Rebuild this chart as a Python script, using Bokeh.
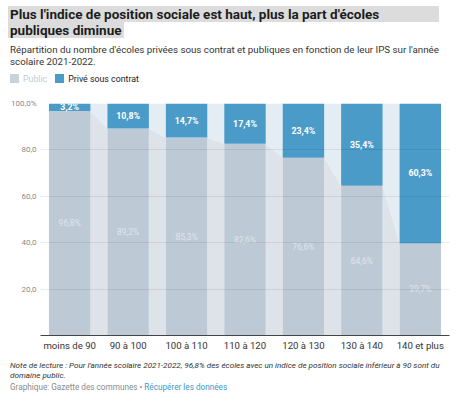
from bokeh.plotting import figure
from bokeh.models import Div, FixedTicker, Range1d, ColumnDataSource
from bokeh.layouts import column
from bokeh.embed import file_html
from bokeh.resources import INLINE
from bokeh.core.properties import value

categories = ["moins de 90", "90 à 100", "100 à 110", "110 à 120", "120 à 130", "130 à 140", "140 et plus"]
public = [96.8, 89.2, 85.3, 82.6, 76.6, 64.6, 39.7]
prive = [3.2, 10.8, 14.7, 17.4, 23.4, 35.4, 60.3]
y_ticks = [20, 40, 60, 80, 100]
y_tick_labels = ["20,0", "40,0", "60,0", "80,0", "100,0%"]

C_PUB = "#bdcad6"
C_PRIV = "#4b9bc9"
C_PUB_GAP = "#dde3e9"
C_PRIV_GAP = "#e4edf4"
FONT = "Roboto"

def fmt(v):
    return f"{v:.1f}".replace(".", ",") + "%"

header = Div(
    text=(
        f"<div style='font-family:{FONT};width:450px'>"
        "<div style='font-weight:bold;font-size:13.5px;line-height:16px;color:#1d1d1d'>"
        "<span style='display:inline-block;background:#dcdcdc;width:431px;padding-left:2px'>Plus l'indice de position sociale est haut, plus la part d'écoles</span><br>"
        "<span style='display:inline-block;background:#dcdcdc;padding:0 2px'>publiques diminue</span></div>"
        "<div style='font-size:9.75px;line-height:12px;color:#333;margin-top:6px;padding-left:2px'>"
        "Répartition du nombre d'écoles privées sous contrat et publiques en fonction de leur IPS sur l'année scolaire 2021-2022.</div>"
        "<div style='font-size:8.8px;line-height:10px;margin-top:6px;padding-left:2px'>"
        f"<span style='display:inline-block;width:9px;height:9px;background:#c8d2dc;vertical-align:-1px'></span>"
        "<span style='color:#c3ccd4;margin-left:4px;margin-right:8px'>Public</span>"
        f"<span style='display:inline-block;width:9px;height:9px;background:{C_PRIV};vertical-align:-1px'></span>"
        "<span style='color:#222;margin-left:4px'>Privé sous contrat</span></div>"
        "</div>"
    ),
    width=458, height=86, margin=(6, 0, 0, 8),
)

n = len(categories)
xs = list(range(n))
w = 0.71

p = figure(width=458, height=263, x_range=Range1d(-0.5, n - 0.5), y_range=Range1d(0, 100),
           output_backend="svg", toolbar_location=None, margin=(0, 0, 0, 8),
           min_border_left=31, min_border_right=17, min_border_top=11, min_border_bottom=20)
p.outline_line_color = None
p.background_fill_color = "white"

# connecting areas
pub_gx, pub_gy, priv_gx, priv_gy = [], [], [], []
for i in range(n - 1):
    x0 = xs[i] + w / 2
    x1 = xs[i + 1] - w / 2
    pub_gx.append([x0, x0, x1, x1])
    pub_gy.append([0, public[i], public[i + 1], 0])
    priv_gx.append([x0, x0, x1, x1])
    priv_gy.append([public[i], 100, 100, public[i + 1]])
p.patches(pub_gx, pub_gy, fill_color=C_PUB_GAP, line_color=None)
p.patches(priv_gx, priv_gy, fill_color=C_PRIV_GAP, line_color=None)

src = ColumnDataSource(dict(
    x=xs, pub=public, priv=prive,
    top=[a + b for a, b in zip(public, prive)],
    pub_mid=[a / 2 for a in public],
    priv_mid=[a + b / 2 for a, b in zip(public, prive)],
    pub_lbl=[fmt(v) for v in public],
    priv_lbl=[fmt(v) for v in prive],
))
p.vbar(x="x", width=w, bottom=0, top="pub", source=src, fill_color=C_PUB, line_color=None)
p.vbar(x="x", width=w, bottom="pub", top="top", source=src, fill_color=C_PRIV, line_color=None)

p.text(x="x", y="pub_mid", text="pub_lbl", source=src, text_align="center", text_baseline="middle",
       text_font=value(FONT), text_font_size="8.5px", text_color="#dde4eb")
p.text(x="x", y="priv_mid", text="priv_lbl", source=src, text_align="center", text_baseline="middle",
       text_font=value(FONT), text_font_size="8.8px", text_font_style="bold", text_color="white")

# axes
p.yaxis.ticker = FixedTicker(ticks=y_ticks)
p.yaxis.major_label_overrides = {t: l for t, l in zip(y_ticks, y_tick_labels)}
p.yaxis.axis_line_color = None
p.yaxis.major_tick_line_color = None
p.yaxis.minor_tick_line_color = None
p.yaxis.major_tick_out = 0
p.yaxis.major_tick_in = 0
p.yaxis.major_label_standoff = 4
p.yaxis.major_label_text_font = FONT
p.yaxis.major_label_text_font_size = "8px"
p.yaxis.major_label_text_color = "#8a8a8a"

p.xaxis.ticker = FixedTicker(ticks=xs)
p.xaxis.major_label_overrides = {i: c for i, c in zip(xs, categories)}
p.xaxis.axis_line_color = "#444444"
p.xaxis.axis_line_width = 1
p.xaxis.major_tick_line_color = None
p.xaxis.minor_tick_line_color = None
p.xaxis.major_tick_out = 0
p.xaxis.major_tick_in = 0
p.xaxis.major_label_standoff = 4
p.xaxis.major_label_text_font = FONT
p.xaxis.major_label_text_font_size = "9.6px"
p.xaxis.major_label_text_color = "#333333"

p.xgrid.grid_line_color = None
p.ygrid.grid_line_color = "#000000"
p.ygrid.grid_line_alpha = 0.08
p.ygrid.level = "overlay"

footer = Div(
    text=(
        f"<div style='font-family:{FONT};width:445px;padding-left:2px'>"
        "<div style='font-size:8.1px;line-height:10px;color:#333;font-style:italic;margin-top:5px'>"
        "Note de lecture : Pour l'année scolaire 2021-2022, 96,8% des écoles avec un indice de position sociale inférieur à 90 sont du domaine public.</div>"
        "<div style='font-size:8.2px;line-height:10px;color:#8a8a8a;margin-top:2px'>"
        "Graphique: Gazette des communes • <span style='color:#3d98c9'>Récupérer les données</span></div>"
        "</div>"
    ),
    width=458, height=37, margin=(0, 0, 0, 8),
)

layout = column(header, p, footer, spacing=0)
open("out.html", "w").write(file_html(layout, INLINE))
